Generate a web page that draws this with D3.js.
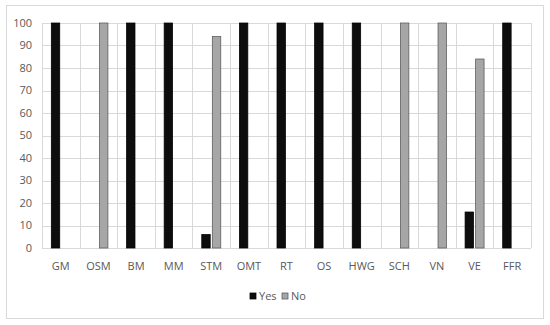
<!DOCTYPE html>
<html>
<head>
<meta charset="utf-8">
<script src="https://cdn.jsdelivr.net/npm/d3@7"></script>
<style>
body { margin: 0; background: #fff; }
text { font-family: "Open Sans", sans-serif; fill: #595959; }
</style>
</head>
<body>
<div id="chart"></div>
<script>
var categories = ["GM", "OSM", "BM", "MM", "STM", "OMT", "RT", "OS", "HWG", "SCH", "VN", "VE", "FFR"];
var yesValues = [100, 0, 100, 100, 6, 100, 100, 100, 100, 0, 0, 16, 100];
var noValues = [0, 100, 0, 0, 94, 0, 0, 0, 0, 100, 100, 84, 0];
var seriesNames = ["Yes", "No"];
var yTicks = [0, 10, 20, 30, 40, 50, 60, 70, 80, 90, 100];

var width = 550, height = 325;
var plot = { left: 42, right: 531, top: 23, bottom: 248 };

var svg = d3.select("#chart").append("svg")
  .attr("width", width)
  .attr("height", height);

// outer frame
svg.append("rect")
  .attr("x", 6.5).attr("y", 5.5)
  .attr("width", 537).attr("height", 313)
  .attr("fill", "#fff")
  .attr("stroke", "#d9d9d9");

var x = d3.scaleBand()
  .domain(categories)
  .range([plot.left, plot.right]);

var inner = d3.scaleBand()
  .domain(seriesNames)
  .range([0, 19])
  .paddingInner(0.2);

var y = d3.scaleLinear()
  .domain([0, 100])
  .range([plot.bottom, plot.top]);

var colors = { Yes: "#0d0d0d", No: "#a6a6a6" };
var strokes = { Yes: "#000", No: "#595959" };

// horizontal grid
svg.append("g")
  .selectAll("line")
  .data(yTicks)
  .enter().append("line")
    .attr("x1", plot.left).attr("x2", plot.right)
    .attr("y1", function(d) { return Math.round(y(d)) + 0.5; })
    .attr("y2", function(d) { return Math.round(y(d)) + 0.5; })
    .attr("stroke", "#d9d9d9");

// vertical grid at category boundaries
svg.append("g")
  .selectAll("line")
  .data(categories.concat(["end"]))
  .enter().append("line")
    .attr("x1", function(d, i) { return Math.round(plot.left + i * x.step()) + 0.5; })
    .attr("x2", function(d, i) { return Math.round(plot.left + i * x.step()) + 0.5; })
    .attr("y1", plot.top).attr("y2", plot.bottom)
    .attr("stroke", "#d9d9d9");

// y axis labels
svg.append("g")
  .selectAll("text")
  .data(yTicks)
  .enter().append("text")
    .attr("x", 32)
    .attr("y", function(d) { return y(d); })
    .attr("dy", "0.35em")
    .attr("text-anchor", "end")
    .style("font-size", "11px")
    .text(function(d) { return d; });

// x axis labels
svg.append("g")
  .selectAll("text")
  .data(categories)
  .enter().append("text")
    .attr("x", function(d) { return x(d) + x.bandwidth() / 2; })
    .attr("y", 270)
    .attr("text-anchor", "middle")
    .style("font-size", "11px")
    .text(function(d) { return d; });

// bars
var rows = categories.map(function(c, i) {
  return { cat: c, values: [
    { key: "Yes", value: yesValues[i] },
    { key: "No", value: noValues[i] }
  ] };
});

var groups = svg.append("g")
  .selectAll("g")
  .data(rows)
  .enter().append("g")
    .attr("transform", function(d) {
      return "translate(" + (x(d.cat) + x.bandwidth() / 2 - 9.5) + ",0)";
    });

groups.selectAll("rect")
  .data(function(d) { return d.values.filter(function(v) { return v.value > 0; }); })
  .enter().append("rect")
    .attr("x", function(d) { return inner(d.key); })
    .attr("y", function(d) { return y(d.value); })
    .attr("width", inner.bandwidth())
    .attr("height", function(d) { return y(0) - y(d.value); })
    .attr("fill", function(d) { return colors[d.key]; })
    .attr("stroke", function(d) { return strokes[d.key]; })
    .attr("stroke-width", 0.75);

// legend
var legend = svg.append("g")
  .selectAll("g")
  .data(seriesNames)
  .enter().append("g")
    .attr("transform", function(d, i) { return "translate(" + (250 + i * 32) + ",296)"; });

legend.append("rect")
  .attr("x", 0).attr("y", -3)
  .attr("width", 6).attr("height", 6)
  .attr("fill", function(d) { return colors[d]; })
  .attr("stroke", function(d) { return strokes[d]; })
  .attr("stroke-width", 0.75);

legend.append("text")
  .attr("x", 9)
  .attr("dy", "0.35em")
  .style("font-size", "11px")
  .text(function(d) { return d; });
</script>
</body>
</html>
